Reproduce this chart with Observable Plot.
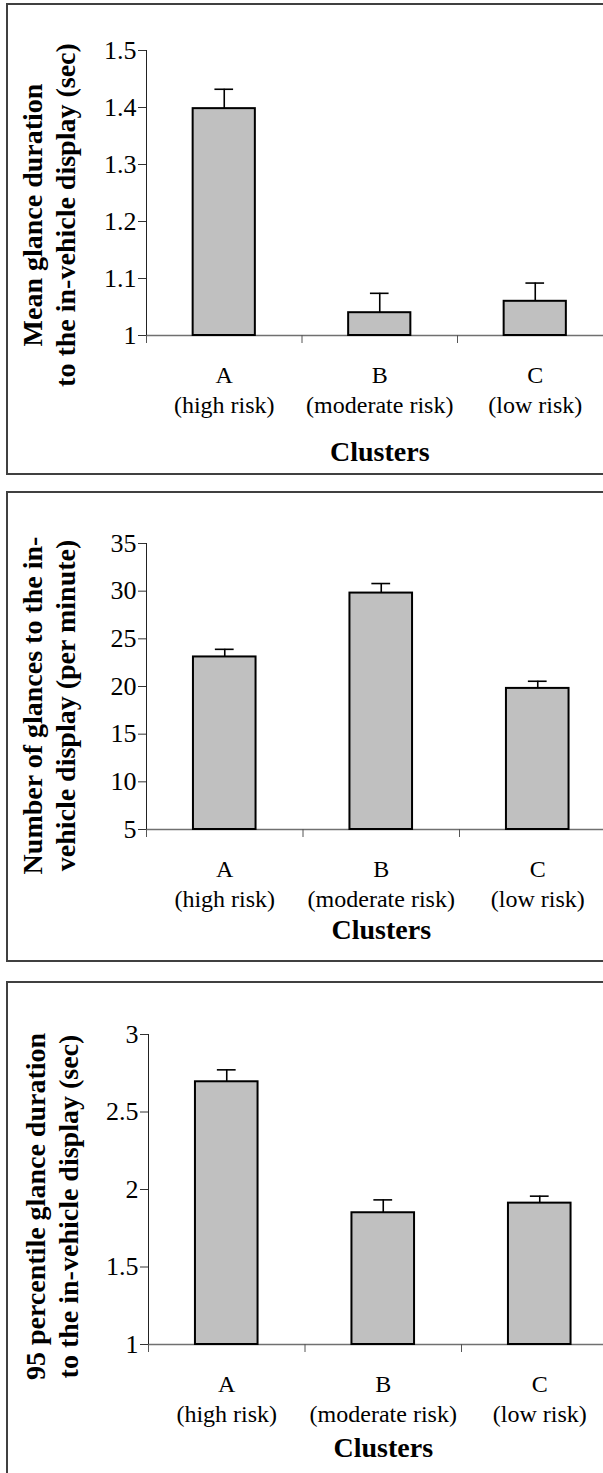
<!DOCTYPE html>
<html>
<head>
<meta charset="utf-8">
<script src="https://cdn.jsdelivr.net/npm/d3@7"></script>
<script src="https://cdn.jsdelivr.net/npm/@observablehq/plot@0.6"></script>
<style>
  html, body { margin: 0; padding: 0; background: #fff; overflow: hidden; }
  #page { position: relative; width: 603px; height: 1473px; overflow: hidden; background: #fff; }
  .border { position: absolute; box-sizing: border-box; border: 2px solid #404040; pointer-events: none; }
  #page svg { position: absolute; left: 0; }
  #page svg text { font-family: 'Liberation Serif', 'Times New Roman', serif; }
</style>
</head>
<body>
<div id="page"></div>
<script>
// ---- data ----
const categories = ["A", "B", "C"];
const riskLabels = ["(high risk)", "(moderate risk)", "(low risk)"];

const meanDuration = [1.398, 1.040, 1.060];
const meanDurationErr = [0.034, 0.034, 0.032];

const glanceRate = [23.1, 29.8, 19.8];
const glanceRateErr = [0.8, 1.0, 0.75];

const p95Duration = [2.695, 1.85, 1.912];
const p95DurationErr = [0.077, 0.083, 0.045];

const meanTicks = [1, 1.1, 1.2, 1.3, 1.4, 1.5];
const rateTicks = [5, 10, 15, 20, 25, 30, 35];
const p95Ticks = [1, 1.5, 2, 2.5, 3];

const yTitles = [
  "Mean glance duration\nto the in-vehicle display (sec)",
  "Number of glances to the in-\nvehicle display (per minute)",
  "95 percentile glance duration\nto the in-vehicle display (sec)"
];
const xTitle = "Clusters";

// ---- layout ----
const FONT = "'Liberation Serif', 'Times New Roman', serif";
const panels = [
  {values: meanDuration, errs: meanDurationErr, ticks: meanTicks, title: yTitles[0],
   top: 0, height: 476, mt: 50, mb: 141, left: 146, step: 155.5, tdx: -99, tdy: 22, cdy: 106,
   box: {top: 3, height: 472}},
  {values: glanceRate, errs: glanceRateErr, ticks: rateTicks, title: yTitles[1],
   top: 476, height: 486, mt: 67, mb: 133, left: 146, step: 156.5, tdx: -99, tdy: 19, cdy: 90,
   box: {top: 491, height: 471}},
  {values: p95Duration, errs: p95DurationErr, ticks: p95Ticks, title: yTitles[2],
   top: 962, height: 511, mt: 72, mb: 129, left: 148, step: 156.5, tdx: -98, tdy: 17, cdy: 93,
   box: {top: 981, height: 600}}
];

function makePanel(p) {
  const data = categories.map((c, i) => ({
    cat: c, risk: riskLabels[i], i, value: p.values[i], hi: p.values[i] + p.errs[i]
  }));
  const ymin = p.ticks[0], ymax = p.ticks[p.ticks.length - 1];
  const width = 660;
  const marginRight = width - p.left - 3 * p.step;
  return Plot.plot({
    width, height: p.height,
    marginTop: p.mt, marginBottom: p.mb, marginLeft: p.left, marginRight,
    x: {domain: [0, 3]},
    y: {domain: [ymin, ymax]},
    style: {background: "transparent", maxWidth: "none", overflow: "visible", fontFamily: FONT, color: "black"},
    marks: [
      Plot.ruleY([ymin], {stroke: "#707070", strokeWidth: 1.5}),
      Plot.ruleX([0], {y1: ymin, y2: ymax, stroke: "#222", strokeWidth: 1}),
      Plot.axisX({ticks: [0, 1, 2, 3], tickSize: 8, tickFormat: () => "", label: null, stroke: "#555"}),
      Plot.axisY({ticks: p.ticks, tickSize: 8, tickPadding: 2, tickFormat: d => String(d),
                  fontSize: 26, fontFamily: FONT, label: null, stroke: "#333", fill: "black"}),
      Plot.ruleX(data, {x: d => d.i + 0.5, y1: "value", y2: "hi", stroke: "black", strokeWidth: 1.6}),
      Plot.ruleY(data, {x1: d => d.i + 0.44, x2: d => d.i + 0.56, y: "hi", stroke: "black", strokeWidth: 1.6}),
      Plot.rectY(data, {x1: d => d.i + 0.3, x2: d => d.i + 0.7, y1: ymin, y2: "value",
                        fill: "#c0c0c0", stroke: "black", strokeWidth: 2}),
      Plot.text(data, {x: d => d.i + 0.5, y: ymin, text: d => d.cat + "\n" + d.risk,
                       lineAnchor: "top", dy: 26, fontSize: 24, lineHeight: 1.25, fontFamily: FONT, fill: "black"}),
      Plot.text([xTitle], {frameAnchor: "bottom", lineAnchor: "top", dy: p.cdy,
                           fontSize: 28, fontWeight: "bold", fontFamily: FONT, fill: "black"}),
      Plot.text([p.title], {frameAnchor: "left", rotate: -90, textAnchor: "middle", lineAnchor: "middle",
                            dx: p.tdx, dy: p.tdy, fontSize: 28, fontWeight: "bold", lineHeight: 1.18,
                            fontFamily: FONT, fill: "black"})
    ]
  });
}

const page = document.getElementById("page");
for (const p of panels) {
  const svg = makePanel(p);
  svg.style.top = p.top + "px";
  page.appendChild(svg);
  const b = document.createElement("div");
  b.className = "border";
  b.style.left = "6px";
  b.style.top = p.box.top + "px";
  b.style.height = p.box.height + "px";
  b.style.width = "700px";
  page.appendChild(b);
}
</script>
</body>
</html>
